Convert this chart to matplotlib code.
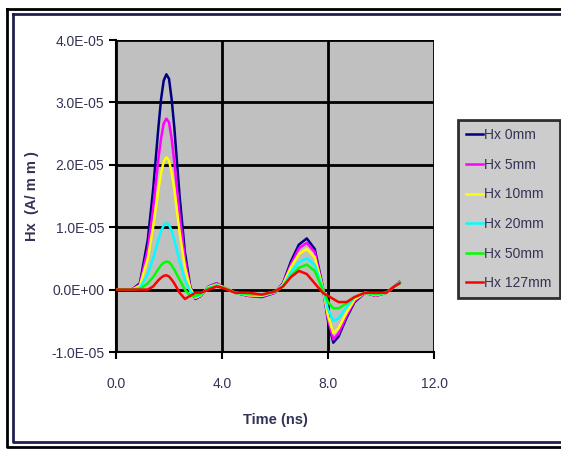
import matplotlib
matplotlib.use("Agg")
import matplotlib.pyplot as plt
from matplotlib.lines import Line2D

plt.rcParams['font.family'] = ['Liberation Sans Narrow', 'Liberation Sans', 'DejaVu Sans']

# time (ns)
t = [0.0, 0.6, 0.9, 1.2, 1.4, 1.6, 1.7, 1.8, 1.9, 2.0, 2.1, 2.2, 2.4, 2.6, 2.8, 3.0, 3.2, 3.5,
     3.8, 4.0, 4.5, 5.0, 5.5, 6.0, 6.3, 6.6, 6.9, 7.2, 7.5, 7.8, 8.0, 8.2, 8.4, 8.7,
     9.0, 9.4, 9.8, 10.2, 10.5, 10.7]

# Hx values in units of 1E-05 A/mm
hx_0 = [0.0, 0.0, 0.1, 0.8, 1.6, 2.6, 3.05, 3.35, 3.45, 3.38, 3.05, 2.6, 1.5, 0.6, 0.05, -0.15, -0.1, 0.05,
        0.1, 0.05, -0.05, -0.1, -0.12, -0.05, 0.1, 0.45, 0.72, 0.82, 0.65, 0.05, -0.5, -0.85, -0.75, -0.45,
        -0.2, -0.05, -0.1, -0.05, 0.05, 0.12]
hx_5 = [0.0, 0.0, 0.08, 0.65, 1.3, 2.1, 2.42, 2.66, 2.74, 2.68, 2.42, 2.05, 1.2, 0.48, 0.03, -0.14, -0.1, 0.05,
        0.1, 0.05, -0.05, -0.1, -0.11, -0.05, 0.09, 0.4, 0.66, 0.75, 0.6, 0.04, -0.47, -0.8, -0.7, -0.42,
        -0.18, -0.05, -0.1, -0.05, 0.05, 0.12]
hx_10 = [0.0, 0.0, 0.06, 0.5, 1.0, 1.6, 1.87, 2.05, 2.12, 2.07, 1.87, 1.6, 0.92, 0.36, 0.02, -0.13, -0.09, 0.04,
         0.08, 0.05, -0.05, -0.09, -0.1, -0.04, 0.08, 0.36, 0.57, 0.65, 0.52, 0.03, -0.42, -0.7, -0.62, -0.37,
         -0.16, -0.05, -0.09, -0.05, 0.05, 0.11]
hx_20 = [0.0, 0.0, 0.03, 0.25, 0.5, 0.8, 0.94, 1.03, 1.07, 1.04, 0.94, 0.8, 0.45, 0.16, -0.02, -0.12, -0.08, 0.03,
         0.07, 0.04, -0.05, -0.08, -0.09, -0.04, 0.06, 0.28, 0.44, 0.5, 0.4, 0.02, -0.32, -0.5, -0.46, -0.28,
         -0.13, -0.05, -0.08, -0.05, 0.05, 0.11]
hx_50 = [0.0, 0.0, 0.01, 0.1, 0.2, 0.33, 0.39, 0.43, 0.45, 0.44, 0.39, 0.32, 0.16, 0.0, -0.1, -0.1, -0.07, 0.02,
         0.06, 0.04, -0.05, -0.07, -0.08, -0.03, 0.05, 0.22, 0.35, 0.4, 0.3, 0.0, -0.2, -0.3, -0.3, -0.22,
         -0.12, -0.05, -0.07, -0.05, 0.05, 0.1]
hx_127 = [0.0, 0.0, 0.0, 0.0, 0.05, 0.15, 0.19, 0.22, 0.23, 0.21, 0.16, 0.1, -0.05, -0.15, -0.1, -0.05, -0.05, 0.0,
          0.05, 0.03, -0.05, -0.05, -0.08, -0.03, 0.05, 0.2, 0.3, 0.25, 0.1, -0.05, -0.1, -0.15, -0.2, -0.2,
          -0.12, -0.05, -0.05, -0.05, 0.05, 0.1]

series = [
    ("Hx 0mm", hx_0, "#000080"),
    ("Hx 5mm", hx_5, "#ff00ff"),
    ("Hx 10mm", hx_10, "#ffff00"),
    ("Hx 20mm", hx_20, "#00ffff"),
    ("Hx 50mm", hx_50, "#00ff00"),
    ("Hx 127mm", hx_127, "#ff0000"),
]

y_ticks = [-1e-5, 0.0, 1e-5, 2e-5, 3e-5, 4e-5]
y_labels = ["-1.0E-05", "0.0E+00", "1.0E-05", "2.0E-05", "3.0E-05", "4.0E-05"]
x_ticks = [0.0, 4.0, 8.0, 12.0]
x_labels = ["0.0", "4.0", "8.0", "12.0"]

fig = plt.figure(figsize=(5.61, 4.5), dpi=100)
fig.patch.set_facecolor("white")
ax = fig.add_axes([116 / 561, 1 - 352 / 450, 318 / 561, 312 / 450])
ax.set_facecolor("#c0c0c0")

for label, vals, color in series:
    ax.plot(t, [v * 1e-5 for v in vals], color=color, lw=1.8, label=label, zorder=3)

ax.set_xlim(0, 12)
ax.set_ylim(-1e-5, 4e-5)
ax.set_xticks(x_ticks)
ax.set_xticklabels(x_labels)
ax.set_yticks(y_ticks)
ax.set_yticklabels(y_labels)
ax.grid(True, color="black", lw=2, zorder=1)
ax.set_axisbelow(True)
for side in ["top", "right"]:
    ax.spines[side].set_visible(False)
ax.spines["left"].set_linewidth(1.5)
ax.spines["bottom"].set_linewidth(1.5)
ax.tick_params(axis="both", direction="out", length=5, width=1.5,
               labelsize=10, colors="black", labelcolor="#333355")
ax.tick_params(axis="x", pad=13)
ax.set_xlabel("Time (ns)", fontsize=10.5, fontweight="bold", color="#333355", labelpad=16)
ax.set_ylabel("Hx  (A/ m m )", fontsize=10.5, fontweight="bold", color="#333355", labelpad=9)

leg = fig.legend(loc="upper left", bbox_to_anchor=(458 / 561, 1 - 120 / 450),
                 frameon=True, fancybox=False, fontsize=10, handlelength=1.2,
                 handletextpad=0.1, labelspacing=1.12, borderpad=0.6,
                 borderaxespad=0)
leg.get_frame().set_facecolor("#c0c0c0")
leg.get_frame().set_edgecolor("black")
leg.get_frame().set_linewidth(2)
for txt in leg.get_texts():
    txt.set_color("#333355")

# outer double frame
W, H = 561.0, 450.0
def frame(x0, y0, x1, y1, color, lw):
    xs = [x0 / W, x1 / W, x1 / W, x0 / W, x0 / W]
    ys = [1 - y0 / H, 1 - y0 / H, 1 - y1 / H, 1 - y1 / H, 1 - y0 / H]
    fig.add_artist(Line2D(xs, ys, transform=fig.transFigure, color=color, lw=lw))

frame(7, 9, 575, 447, "black", 2.0)
frame(13, 14, 575, 442, "#202050", 2.0)

fig.savefig("out.png", dpi=100)
